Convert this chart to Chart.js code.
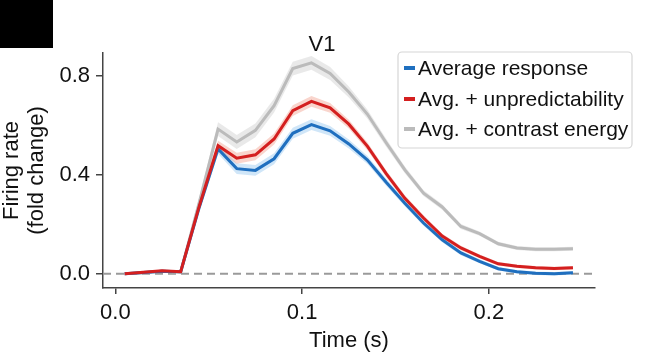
<!DOCTYPE html>
<html>
<head>
<meta charset="utf-8">
<script src="https://cdn.jsdelivr.net/npm/chart.js@4/dist/chart.umd.min.js"></script>
<style>
  html, body { margin: 0; padding: 0; background: #fff; }
  #wrap { position: relative; width: 664px; height: 355px; }
  #panel { position: absolute; left: 0; top: 0; width: 53px; height: 48px; background: #000; }
</style>
</head>
<body>
<div id="wrap">
  <canvas id="c" width="664" height="355"></canvas>
  <div id="panel"></div>
</div>
<script>
// ---- data ----
const times = [0.005,0.015,0.025,0.035,0.045,0.055,0.065,0.075,0.085,0.095,0.105,0.115,0.125,
               0.135,0.145,0.155,0.165,0.175,0.185,0.195,0.205,0.215,0.225,0.235,0.245];
const avgResponse = [0.000,0.005,0.010,0.008,0.270,0.505,0.425,0.418,0.465,0.568,0.603,0.578,0.525,
                     0.460,0.370,0.285,0.205,0.137,0.084,0.050,0.020,0.008,0.002,0.000,0.004];
const avgUnpred =   [0.000,0.006,0.012,0.008,0.275,0.518,0.467,0.481,0.545,0.660,0.697,0.671,0.605,
                     0.515,0.405,0.305,0.225,0.152,0.104,0.070,0.040,0.030,0.024,0.021,0.024];
const avgContrast = [0.000,0.004,0.010,0.006,0.290,0.585,0.533,0.580,0.680,0.830,0.853,0.810,0.735,
                     0.645,0.530,0.420,0.326,0.270,0.191,0.162,0.121,0.104,0.099,0.099,0.101];
const semResponse = [0.004,0.004,0.004,0.004,0.015,0.020,0.022,0.022,0.022,0.022,0.022,0.020,0.018,
                     0.016,0.014,0.012,0.011,0.010,0.009,0.008,0.007,0.007,0.007,0.007,0.007];
const semUnpred =   [0.004,0.004,0.004,0.004,0.015,0.020,0.022,0.022,0.022,0.022,0.022,0.020,0.018,
                     0.016,0.014,0.012,0.011,0.010,0.009,0.008,0.007,0.007,0.007,0.007,0.007];
const semContrast = [0.005,0.005,0.005,0.005,0.020,0.028,0.028,0.028,0.028,0.028,0.028,0.026,0.022,
                     0.018,0.016,0.014,0.012,0.011,0.010,0.009,0.008,0.008,0.008,0.008,0.008];
const seriesLabels = ['Average response','Avg. + unpredictability','Avg. + contrast energy'];
const xTicks = [0.0, 0.1, 0.2];
const yTicks = [0.0, 0.4, 0.8];
const titleText = 'V1';
const xTitle = 'Time (s)';
const yTitle = ['Firing rate', '(fold change)'];

// ---- styles ----
const FONT = '"Liberation Sans", Arial, Helvetica, sans-serif';
const lineColors = ['#1f6fbf', '#d41f1f', '#bbbbbb'];
const bandColors = ['rgba(150,200,240,0.45)', 'rgba(240,150,130,0.40)', 'rgba(212,212,212,0.5)'];

function pts(vals, sem, sign) {
  return times.map((t, i) => ({ x: t, y: vals[i] + sign * (sem ? sem[i] : 0) }));
}
const means = [avgResponse, avgUnpred, avgContrast];
const sems = [semResponse, semUnpred, semContrast];
const lineOrder = [1, 0, 2];

const datasets = [];
for (let k = 0; k < 3; k++) {
  datasets.push({
    label: seriesLabels[k], data: pts(means[k], null, 0),
    borderColor: lineColors[k], borderWidth: 3, pointRadius: 0, fill: false,
    order: lineOrder[k], isLine: true, tension: 0
  });
}
for (let k = 0; k < 3; k++) {
  datasets.push({
    label: 'band-up-' + k, data: pts(means[k], sems[k], 1),
    borderWidth: 0, borderColor: 'rgba(0,0,0,0)', pointRadius: 0,
    backgroundColor: bandColors[k], fill: '+1', order: 10 - k
  });
  datasets.push({
    label: 'band-lo-' + k, data: pts(means[k], sems[k], -1),
    borderWidth: 0, borderColor: 'rgba(0,0,0,0)', pointRadius: 0,
    fill: false, order: 10 - k
  });
}

const zeroLine = {
  id: 'zeroLine',
  beforeDatasetsDraw(chart) {
    const {ctx, chartArea, scales} = chart;
    const y = scales.y.getPixelForValue(0);
    ctx.save();
    ctx.strokeStyle = '#9a9a9a';
    ctx.lineWidth = 2;
    ctx.setLineDash([8, 5]);
    ctx.beginPath();
    ctx.moveTo(chartArea.left, y);
    ctx.lineTo(chartArea.right, y);
    ctx.stroke();
    ctx.restore();
  }
};

const extras = {
  id: 'extras',
  afterDraw(chart) {
    const {ctx} = chart;
    ctx.save();
    ctx.fillStyle = '#111';
    ctx.font = '22px ' + FONT;
    ctx.textAlign = 'center';
    ctx.textBaseline = 'alphabetic';
    ctx.fillText(titleText, 322, 51);
    const bx = 398, by = 52, bw = 234, bh = 96, r = 4;
    ctx.beginPath();
    ctx.moveTo(bx + r, by);
    ctx.arcTo(bx + bw, by, bx + bw, by + bh, r);
    ctx.arcTo(bx + bw, by + bh, bx, by + bh, r);
    ctx.arcTo(bx, by + bh, bx, by, r);
    ctx.arcTo(bx, by, bx + bw, by, r);
    ctx.closePath();
    ctx.fillStyle = 'rgba(255,255,255,0.85)';
    ctx.fill();
    ctx.strokeStyle = '#d6d6d6';
    ctx.lineWidth = 1.2;
    ctx.stroke();
    const rows = [68, 99, 129];
    ctx.font = '21px ' + FONT;
    ctx.textAlign = 'left';
    ctx.textBaseline = 'middle';
    chart.data.datasets.forEach((ds, i) => {
      if (!ds.isLine) return;
      const yy = rows[i];
      ctx.strokeStyle = ds.borderColor;
      ctx.lineWidth = 4;
      ctx.lineCap = 'butt';
      ctx.beginPath();
      ctx.moveTo(404, yy);
      ctx.lineTo(415, yy);
      ctx.stroke();
      ctx.fillStyle = '#111';
      ctx.fillText(ds.label, 418, yy + 1);
    });
    ctx.restore();
  }
};

new Chart(document.getElementById('c'), {
  type: 'line',
  data: { datasets },
  options: {
    responsive: false,
    animation: false,
    layout: { padding: { left: 0, right: 69, top: 53, bottom: 0 } },
    plugins: { legend: { display: false }, title: { display: false }, tooltip: { enabled: false } },
    scales: {
      x: {
        type: 'linear', min: -0.0066, max: 0.2568,
        afterBuildTicks(s) { s.ticks = xTicks.map(v => ({ value: v })); },
        afterFit(s) { s.height = 67; },
        ticks: {
          callback: v => Number(v).toFixed(1), color: '#111',
          font: { family: FONT, size: 22 }, padding: 6, maxRotation: 0, autoSkip: false
        },
        grid: { display: true, drawOnChartArea: false, drawTicks: true, tickLength: 6, color: '#444', lineWidth: 1.5 },
        border: { display: true, color: '#444', width: 1.5 },
        title: { display: true, text: xTitle, color: '#111', font: { family: FONT, size: 22 }, padding: { top: 0, bottom: 1 } }
      },
      y: {
        type: 'linear', min: -0.058, max: 0.893,
        afterBuildTicks(s) { s.ticks = yTicks.map(v => ({ value: v })); },
        afterFit(s) { s.width = 103; },
        ticks: {
          callback: v => Number(v).toFixed(1), color: '#111',
          font: { family: FONT, size: 22 }, padding: 6, autoSkip: false
        },
        grid: { display: true, drawOnChartArea: false, drawTicks: true, tickLength: 7, color: '#444', lineWidth: 1.5 },
        border: { display: true, color: '#444', width: 1.5 },
        title: { display: true, text: yTitle, color: '#111', font: { family: FONT, size: 22, lineHeight: 1.15 }, padding: { top: -1, bottom: 0 } }
      }
    }
  },
  plugins: [zeroLine, extras]
});
</script>
</body>
</html>
